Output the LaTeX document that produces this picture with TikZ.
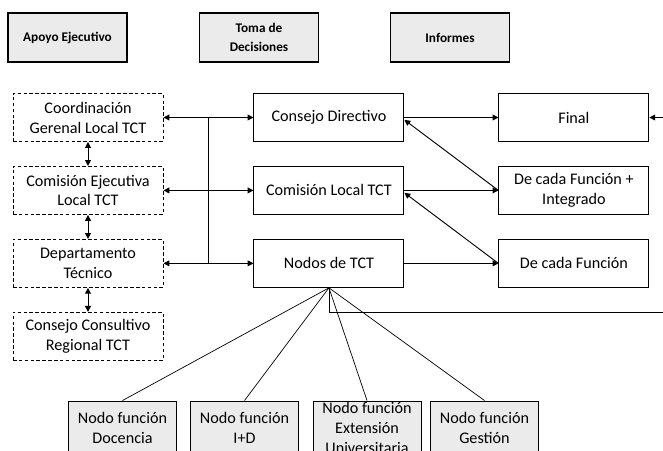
\documentclass[tikz,border=0pt]{standalone}
\usepackage{fontspec}
\setmainfont{Carlito}
\usepackage{tikz}
\usetikzlibrary{positioning, arrows.meta, calc}

\begin{document}
\begin{tikzpicture}[
    x=0.03cm, y=-0.03cm,
    node distance=0.72cm and 2.7cm,
    header/.style={rectangle, draw, fill=black!8, minimum width=3.57cm, minimum height=1.47cm, align=center, line width=0.9pt, font=\fontsize{11.3}{16}\selectfont\bfseries},
    support/.style={rectangle, draw, dash pattern=on 3pt off 2pt, minimum width=4.5cm, minimum height=1.44cm, align=center, line width=0.8pt, font=\fontsize{13.8}{17}\selectfont},
    block/.style={rectangle, draw, minimum width=4.5cm, minimum height=1.44cm, align=center, line width=0.8pt, font=\fontsize{13.8}{17}\selectfont},
    funcnode/.style={rectangle, draw, fill=black!8, minimum width=3.24cm, minimum height=1.62cm, inner xsep=2pt, inner ysep=0pt, align=center, line width=0.8pt, font=\fontsize{13.8}{17}\selectfont},
    arrow/.style={-{Triangle[length=5pt,width=5pt]}, line width=0.8pt},
    dblarrow/.style={{Triangle[length=5pt,width=5pt]}-{Triangle[length=5pt,width=5pt]}, line width=0.8pt},
    link/.style={line width=0.6pt}
]
\useasboundingbox (0,0) rectangle (663,451);
\clip (0,0) rectangle (663,451);

% Headers
\node[header] (h_apoyo) at (67.5,37.5) {Apoyo Ejecutivo};
\node[header] (h_toma) at (259,37.5) {Toma de\\Decisiones};
\node[header] (h_inf) at (450,37.5) {Informes};

% Apoyo ejecutivo
\node[support] (coord) at (88,117.5) {Coordinación\\Gerenal Local TCT};
\node[support, below=of coord] (com_ej) {Comisión Ejecutiva\\Local TCT};
\node[support, below=of com_ej] (depto) {Departamento\\Técnico};
\node[support, below=of depto] (consultivo) {Consejo Consultivo\\Regional TCT};

% Toma de decisiones
\node[block, right=of coord] (consejo) {Consejo Directivo};
\node[block, right=of com_ej] (com_local) {Comisión Local TCT};
\node[block, right=of depto] (nodos) {Nodos de TCT};

% Informes
\node[block, right=2.82cm of consejo] (final) {Final};
\node[block, right=2.82cm of com_local] (rep_int) {De cada Función +\\Integrado};
\node[block, right=2.82cm of nodos] (rep_fun) {De cada Función};

% Nodos funcion
\node[funcnode] (f_doc) at (122.5,428) {Nodo función\\Docencia};
\node[funcnode] (f_id) at (244.5,428) {Nodo función\\I+D};
\node[funcnode] (f_ext) at (367,428) {Nodo función\\Extensión\\Universitaria};
\node[funcnode] (f_ges) at (484.5,428) {Nodo función\\Gestión};

\coordinate (edge_out) at (663,312);
\coordinate (edge_in) at (663,117.5);

% Arrows
\draw[dblarrow] (coord) -- (com_ej);
\draw[dblarrow] (com_ej) -- (depto);
\draw[dblarrow] (depto) -- (consultivo);

\draw[dblarrow] (coord.east) -- (consejo.west);
\draw[dblarrow] (com_ej.east) -- (com_local.west);
\draw[dblarrow] (depto.east) -- (nodos.west);
\draw[link] ($(coord.east)!0.5!(consejo.west)$) -- ($(depto.east)!0.5!(nodos.west)$);

\draw[arrow] (consejo.east) -- (final.west);
\draw[arrow] (com_local.east) -- (rep_int.west);
\draw[arrow] (nodos.east) -- (rep_fun.west);
\draw[arrow] (rep_int.west) -- ([yshift=-2pt]consejo.east);
\draw[arrow] (rep_fun.west) -- ([yshift=-2pt]com_local.east);

\draw[arrow] (edge_in) -- (final.east);
\draw[link] (nodos.south) |- (edge_out);

\draw[link] (nodos.south) -- (f_doc.north);
\draw[link] (nodos.south) -- (f_id.north);
\draw[link] (nodos.south) -- (f_ext.north);
\draw[link] (nodos.south) -- (f_ges.north);

\end{tikzpicture}
\end{document}
